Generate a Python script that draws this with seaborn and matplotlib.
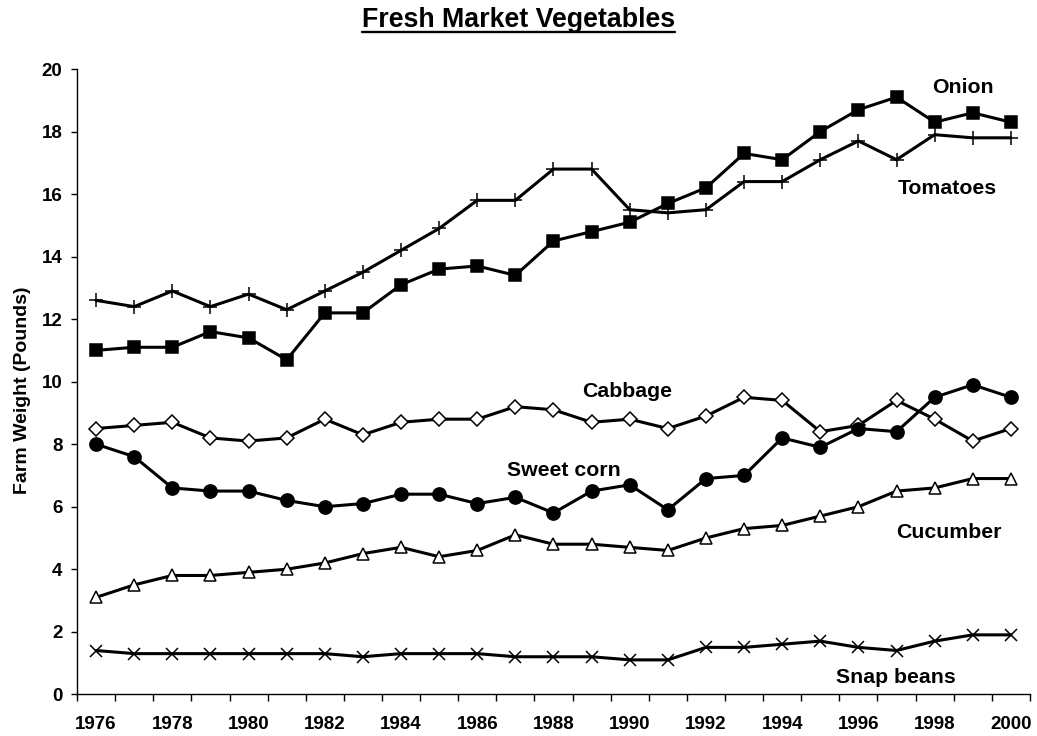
import numpy as np
import pandas as pd
import seaborn as sns
import matplotlib.pyplot as plt
from matplotlib.lines import Line2D
from matplotlib.ticker import MultipleLocator

years = list(range(1976, 2001))

onion = [11.0, 11.1, 11.1, 11.6, 11.4, 10.7, 12.2, 12.2, 13.1, 13.6, 13.7, 13.4, 14.5,
         14.8, 15.1, 15.7, 16.2, 17.3, 17.1, 18.0, 18.7, 19.1, 18.3, 18.6, 18.3]
tomatoes = [12.6, 12.4, 12.9, 12.4, 12.8, 12.3, 12.9, 13.5, 14.2, 14.9, 15.8, 15.8, 16.8,
            16.8, 15.5, 15.4, 15.5, 16.4, 16.4, 17.1, 17.7, 17.1, 17.9, 17.8, 17.8]
cabbage = [8.5, 8.6, 8.7, 8.2, 8.1, 8.2, 8.8, 8.3, 8.7, 8.8, 8.8, 9.2, 9.1,
           8.7, 8.8, 8.5, 8.9, 9.5, 9.4, 8.4, 8.6, 9.4, 8.8, 8.1, 8.5]
sweet_corn = [8.0, 7.6, 6.6, 6.5, 6.5, 6.2, 6.0, 6.1, 6.4, 6.4, 6.1, 6.3, 5.8,
              6.5, 6.7, 5.9, 6.9, 7.0, 8.2, 7.9, 8.5, 8.4, 9.5, 9.9, 9.5]
cucumber = [3.1, 3.5, 3.8, 3.8, 3.9, 4.0, 4.2, 4.5, 4.7, 4.4, 4.6, 5.1, 4.8,
            4.8, 4.7, 4.6, 5.0, 5.3, 5.4, 5.7, 6.0, 6.5, 6.6, 6.9, 6.9]
snap_beans = [1.4, 1.3, 1.3, 1.3, 1.3, 1.3, 1.3, 1.2, 1.3, 1.3, 1.3, 1.2, 1.2,
              1.2, 1.1, 1.1, 1.5, 1.5, 1.6, 1.7, 1.5, 1.4, 1.7, 1.9, 1.9]

names = ['Onion', 'Tomatoes', 'Cabbage', 'Sweet corn', 'Cucumber', 'Snap beans']
series = [onion, tomatoes, cabbage, sweet_corn, cucumber, snap_beans]

# marker style per series: (marker, size, face)
marker_styles = {
    'Onion': ('s', 9, 'black'),
    'Tomatoes': ('+', 10, 'black'),
    'Cabbage': ('D', 7.5, 'white'),
    'Sweet corn': ('o', 9.5, 'black'),
    'Cucumber': ('^', 9, 'white'),
    'Snap beans': ('x', 8.5, 'black'),
}

# label positions (year, value)
label_pos = {
    'Onion': (1998.75, 19.4),
    'Tomatoes': (1998.33, 16.18),
    'Cabbage': (1989.94, 9.68),
    'Sweet corn': (1988.26, 7.17),
    'Cucumber': (1998.38, 5.17),
    'Snap beans': (1996.97, 0.54),
}

df = pd.DataFrame({'year': years})
for n, s in zip(names, series):
    df[n] = s

sns.set_theme(style='ticks')
plt.rcParams['font.family'] = ['Liberation Sans', 'DejaVu Sans']
plt.rcParams['text.color'] = 'black'
plt.rcParams['axes.labelcolor'] = 'black'
plt.rcParams['xtick.color'] = 'black'
plt.rcParams['ytick.color'] = 'black'

fig = plt.figure(figsize=(10.37, 7.36), dpi=100)
ax = fig.add_axes([0.0743, 0.0567, 0.9189, 0.8495])

for n in names:
    m, ms, fc = marker_styles[n]
    sns.lineplot(
        data=df, x='year', y=n, ax=ax,
        color='black', linewidth=2.2,
        marker=m, markersize=ms,
        markerfacecolor=fc, markeredgecolor='black',
        markeredgewidth=1.1,
    )
    lx, ly = label_pos[n]
    ax.text(lx, ly, n, ha='center', va='center', fontsize=15.3, fontweight='bold')

ax.set_xlim(1975.5, 2000.5)
ax.set_ylim(0, 20)
ax.xaxis.set_major_locator(MultipleLocator(2))
ax.xaxis.set_minor_locator(MultipleLocator(1, offset=0.5))
ax.yaxis.set_major_locator(MultipleLocator(2))
ax.tick_params(axis='x', which='major', length=0, pad=15.5, labelsize=13.5)
ax.tick_params(axis='x', which='minor', length=5, width=1, color='black', direction='out')
ax.tick_params(axis='y', which='major', length=4.5, width=1, color='black', pad=6, labelsize=13.5)
for lab in ax.get_xticklabels() + ax.get_yticklabels():
    lab.set_fontweight('bold')

ax.set_xlabel('')
ax.set_ylabel('Farm Weight (Pounds)', fontsize=14, fontweight='bold')
ax.yaxis.set_label_coords(-0.0577, 0.486)
ax.yaxis.label.set_va('center')
sns.despine(ax=ax)
for sp in ['left', 'bottom']:
    ax.spines[sp].set_color('black')
    ax.spines[sp].set_linewidth(1)
ax.grid(False)

title = fig.text(0.5, 1 - 27 / 736, 'Fresh Market Vegetables', ha='center', va='baseline',
                 fontsize=19.3, fontweight='bold')
fig.canvas.draw()
bb = title.get_window_extent()
W, H = fig.bbox.width, fig.bbox.height
uy = 1 - 32 / 736
fig.add_artist(Line2D([bb.x0 / W, bb.x1 / W], [uy, uy], color='black', linewidth=1.7,
                      transform=fig.transFigure))

fig.savefig('out.png', dpi=100)
